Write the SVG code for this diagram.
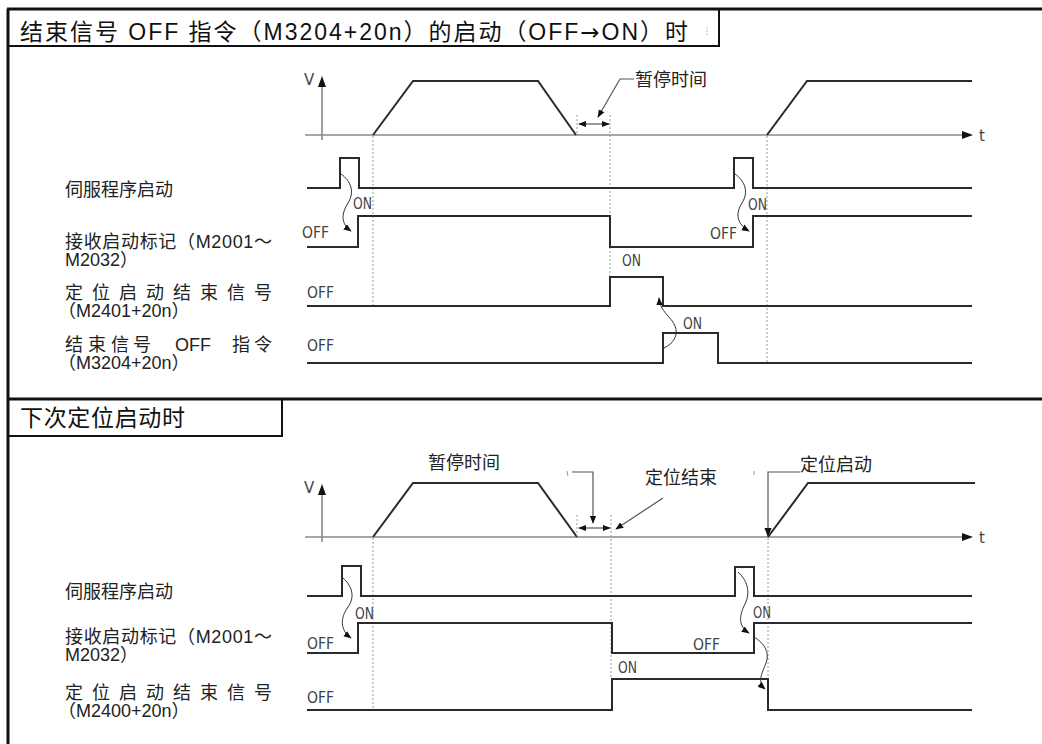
<svg xmlns="http://www.w3.org/2000/svg" width="1042" height="744" viewBox="0 0 1042 744">
<style>
.frame{stroke:#111;fill:none}
.sig{fill:none;stroke:#2a2a2a;stroke-width:2}
.axis{stroke:#8a8a8a;stroke-width:1.6;fill:none}
.dot{stroke:#9a9a9a;stroke-width:1;stroke-dasharray:2 2;fill:none}
.curve{stroke:#333;stroke-width:1;fill:none}
.ptr{stroke:#555;stroke-width:1.2;fill:none}
.hdr{font-family:"Liberation Sans","Noto Sans CJK SC",sans-serif;font-size:23px;fill:#111}
.lbl{font-family:"Liberation Sans","Noto Sans CJK SC",sans-serif;font-size:18px;fill:#222}
.clbl{font-family:"Liberation Sans","Noto Sans CJK SC",sans-serif;font-size:18px;fill:#222}
.io{font-family:"DejaVu Sans",sans-serif;font-size:16px;fill:#444}
.ax{font-family:"DejaVu Sans",sans-serif;font-size:15px;fill:#444}
</style>
<defs>
<marker id="ah" viewBox="0 0 10 10" refX="9" refY="5" markerWidth="9" markerHeight="9" markerUnits="userSpaceOnUse" orient="auto-start-reverse"><path d="M0,1 L10,5 L0,9 z" fill="#111"/></marker>
<marker id="ahs" viewBox="0 0 10 10" refX="9" refY="5" markerWidth="8" markerHeight="8" markerUnits="userSpaceOnUse" orient="auto-start-reverse"><path d="M0,1 L10,5 L0,9 z" fill="#111"/></marker>
</defs>
<rect width="1042" height="744" fill="#fff"/>

<g id="frame">
<line class="frame" x1="8" y1="9" x2="8" y2="744" stroke-width="3"/>
<line class="frame" x1="7" y1="9" x2="1042" y2="9" stroke-width="3"/>
<line class="frame" x1="719" y1="9" x2="719" y2="46" stroke-width="2"/>
<line class="frame" x1="8" y1="46" x2="720" y2="46" stroke-width="2"/>
<line class="frame" x1="7" y1="399" x2="1042" y2="399" stroke-width="3"/>
<line class="frame" x1="282" y1="399" x2="282" y2="436" stroke-width="2"/>
<line class="frame" x1="8" y1="436" x2="283" y2="436" stroke-width="2"/>
<line x1="707" y1="27" x2="707" y2="36" stroke="#bbb" stroke-width="1" stroke-dasharray="2 1"/>
<text class="hdr" x="20" y="40" textLength="668" lengthAdjust="spacing">结束信号 OFF 指令（M3204+20n）的启动（OFF<tspan font-family="DejaVu Sans">→</tspan>ON）时</text>
<text class="hdr" x="20" y="426" textLength="165" lengthAdjust="spacing">下次定位启动时</text>
</g>

<g id="labels-top">
<text class="lbl" x="65" y="196">伺服程序启动</text>
<text class="lbl" x="65" y="248" textLength="207" lengthAdjust="spacing">接收启动标记（M2001～</text>
<text class="lbl" x="65" y="266">M2032）</text>
<text class="lbl" x="65" y="299" textLength="207" lengthAdjust="spacing">定位启动结束信号</text>
<text class="lbl" x="58" y="317">（M2401+20n）</text>
<text class="lbl" y="351"><tspan x="65">结</tspan><tspan x="88">束</tspan><tspan x="111">信</tspan><tspan x="133">号</tspan><tspan x="175">OFF</tspan><tspan x="232">指</tspan><tspan x="254">令</tspan></text>
<text class="lbl" x="58" y="369">（M3204+20n）</text>
</g>

<g id="chart-top">
<line class="axis" x1="322" y1="140" x2="322" y2="84"/>
<path d="M322,76 L318,87 L326,87 z" fill="#111"/>
<text class="ax" x="304" y="85">V</text>
<line class="axis" x1="305" y1="135" x2="963" y2="135"/>
<path d="M973,135 L962,131 L962,139 z" fill="#111"/>
<text class="ax" x="979" y="141">t</text>
<polyline class="sig" points="373,135 413,81 538,81 576,135"/>
<polyline class="sig" points="767,135 807,81 972,81"/>
<line class="dot" x1="577" y1="115" x2="577" y2="134"/>
<line class="dot" x1="373" y1="136" x2="373" y2="306"/>
<line class="dot" x1="610" y1="115" x2="610" y2="277"/>
<line class="dot" x1="767" y1="136" x2="767" y2="363"/>
<line class="ptr" x1="579" y1="124" x2="609" y2="124" marker-start="url(#ahs)" marker-end="url(#ahs)"/>
<polyline class="ptr" points="634,79 620,79 598,117" marker-end="url(#ahs)"/>
<text class="clbl" x="635" y="86">暂停时间</text>

<polyline class="sig" points="307,188 340,188 340,158 359,158 359,188 734,188 734,158 753,158 753,188 972,188"/>
<polyline class="sig" points="307,247 358,247 358,216 610,216 610,247 753,247 753,216 972,216"/>
<polyline class="sig" points="307,306 610,306 610,277 663,277 663,306 972,306"/>
<polyline class="sig" points="307,363 663,363 663,333 718,333 718,363 972,363"/>

<path class="curve" d="M341,174 C351,181 355,192 348,203 C341,214 341,224 351,231" marker-end="url(#ahs)"/>
<path class="curve" d="M735,174 C745,181 749,192 742,203 C735,214 737,224 749,231" marker-end="url(#ahs)"/>
<path class="curve" d="M664,348 C673,344 679,335 675,326 C671,316 660,312 659,298" marker-end="url(#ahs)"/>

<text class="io" x="353" y="209" textLength="19" lengthAdjust="spacingAndGlyphs">ON</text>
<text class="io" x="302" y="238" textLength="27" lengthAdjust="spacingAndGlyphs">OFF</text>
<text class="io" x="748" y="210" textLength="19" lengthAdjust="spacingAndGlyphs">ON</text>
<text class="io" x="710" y="239" textLength="27" lengthAdjust="spacingAndGlyphs">OFF</text>
<text class="io" x="307" y="298" textLength="27" lengthAdjust="spacingAndGlyphs">OFF</text>
<text class="io" x="622" y="266" textLength="19" lengthAdjust="spacingAndGlyphs">ON</text>
<text class="io" x="683" y="329" textLength="19" lengthAdjust="spacingAndGlyphs">ON</text>
<text class="io" x="307" y="351" textLength="27" lengthAdjust="spacingAndGlyphs">OFF</text>
</g>

<g id="labels-bottom">
<text class="lbl" x="65" y="598">伺服程序启动</text>
<text class="lbl" x="65" y="643" textLength="207" lengthAdjust="spacing">接收启动标记（M2001～</text>
<text class="lbl" x="65" y="661">M2032）</text>
<text class="lbl" x="65" y="699" textLength="207" lengthAdjust="spacing">定位启动结束信号</text>
<text class="lbl" x="58" y="717">（M2400+20n）</text>
</g>

<g id="chart-bottom">
<line class="axis" x1="322" y1="542" x2="322" y2="492"/>
<path d="M322,484 L318,495 L326,495 z" fill="#111"/>
<text class="ax" x="304" y="493">V</text>
<line class="axis" x1="305" y1="537" x2="963" y2="537"/>
<path d="M973,537 L962,533 L962,541 z" fill="#111"/>
<text class="ax" x="979" y="543">t</text>
<polyline class="sig" points="373,537 413,483 538,483 577,537"/>
<polyline class="sig" points="768,537 808,483 975,483"/>
<line class="dot" x1="577" y1="515" x2="577" y2="536"/>
<line class="dot" x1="611" y1="515" x2="611" y2="679"/>
<line class="dot" x1="373" y1="538" x2="373" y2="710"/>
<line class="dot" x1="768" y1="538" x2="768" y2="679"/>
<line class="ptr" x1="579" y1="528" x2="610" y2="528" marker-start="url(#ahs)" marker-end="url(#ahs)"/>
<polyline class="ptr" points="572,472 593,472 593,523" marker-end="url(#ahs)"/>
<line x1="567" y1="471" x2="568" y2="476" stroke="#999" stroke-width="1"/>
<line class="ptr" x1="663" y1="498" x2="616" y2="529" marker-end="url(#ahs)"/>
<polyline class="ptr" points="800,472 768,472 768,536" marker-end="url(#ah)"/>
<line x1="754" y1="471" x2="754" y2="475" stroke="#999" stroke-width="1"/>
<text class="clbl" x="428" y="469">暂停时间</text>
<text class="clbl" x="645" y="484">定位结束</text>
<text class="clbl" x="800" y="471">定位启动</text>

<polyline class="sig" points="307,596 342,596 342,566 361,566 361,596 735,596 735,567 754,567 754,596 972,596"/>
<polyline class="sig" points="307,653 358,653 358,623 612,623 612,653 754,653 754,623 972,623"/>
<polyline class="sig" points="307,710 612,710 612,679 768,679 768,710 972,710"/>

<path class="curve" d="M343,578 C351,585 356,596 348,607 C340,618 340,630 351,638" marker-end="url(#ahs)"/>
<path class="curve" d="M738,572 C747,580 751,592 745,604 C739,616 738,626 749,633" marker-end="url(#ahs)"/>
<path class="curve" d="M754,637 C764,643 770,652 766,663 C762,673 757,682 765,689" marker-end="url(#ahs)"/>

<text class="io" x="355" y="619" textLength="19" lengthAdjust="spacingAndGlyphs">ON</text>
<text class="io" x="307" y="649" textLength="27" lengthAdjust="spacingAndGlyphs">OFF</text>
<text class="io" x="753" y="618" textLength="18" lengthAdjust="spacingAndGlyphs">ON</text>
<text class="io" x="693" y="650" textLength="27" lengthAdjust="spacingAndGlyphs">OFF</text>
<text class="io" x="618" y="673" textLength="19" lengthAdjust="spacingAndGlyphs">ON</text>
<text class="io" x="307" y="703" textLength="27" lengthAdjust="spacingAndGlyphs">OFF</text>
</g>
</svg>
